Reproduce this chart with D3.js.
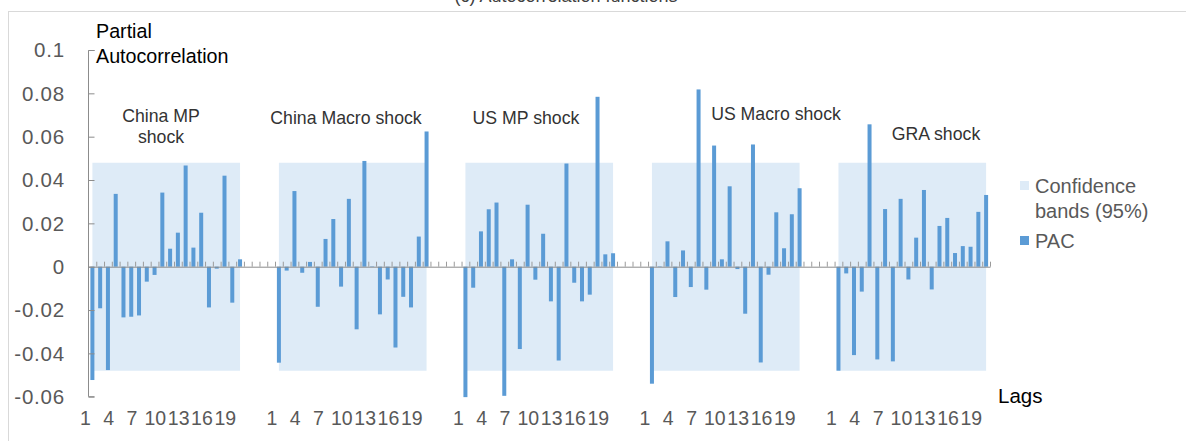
<!DOCTYPE html>
<html>
<head>
<meta charset="utf-8">
<script src="https://cdn.jsdelivr.net/npm/d3@7"></script>
<style>
  body { margin: 0; background: #fff; }
  text { font-family: "Liberation Sans", Arial, Helvetica, sans-serif; }
</style>
</head>
<body>
<div id="chart"></div>
<script>
// ---- data ----
var shocks = ["China MP shock", "China Macro shock", "US MP shock", "US Macro shock", "GRA shock"];
var lags = d3.range(1, 21);
var lagLabels = [1, 4, 7, 10, 13, 16, 19];

var pacChinaMP    = [-0.0523, -0.0192, -0.0477, 0.0336, -0.0234, -0.0231, -0.0225, -0.0069, -0.0038, 0.0342,
                      0.0083, 0.0157, 0.0467, 0.0088, 0.0249, -0.0188, -0.0009, 0.0420, -0.0166, 0.0034];
var pacChinaMacro = [-0.0443, -0.0018, 0.0349, -0.0028, 0.0022, -0.0185, 0.0128, 0.0220, -0.0092, 0.0313,
                     -0.0289, 0.0488, 0.0002, -0.0220, -0.0059, -0.0373, -0.0139, -0.0188, 0.0139, 0.0624];
var pacUSMP       = [-0.0602, -0.0097, 0.0163, 0.0265, 0.0296, -0.0596, 0.0034, -0.0380, 0.0286, -0.0060,
                      0.0152, -0.0160, -0.0433, 0.0476, -0.0074, -0.0160, -0.0129, 0.0784, 0.0057, 0.0062];
var pacUSMacro    = [-0.0540, 0.0002, 0.0117, -0.0140, 0.0075, -0.0094, 0.0818, -0.0106, 0.0559, 0.0034,
                      0.0371, -0.0011, -0.0217, 0.0564, -0.0442, -0.0037, 0.0251, 0.0085, 0.0242, 0.0362];
var pacGRA        = [-0.0480, -0.0031, -0.0408, -0.0115, 0.0657, -0.0428, 0.0266, -0.0437, 0.0313, -0.0059,
                      0.0134, 0.0354, -0.0105, 0.0188, 0.0225, 0.0063, 0.0095, 0.0092, 0.0253, 0.0331];
var pacSeries = [pacChinaMP, pacChinaMacro, pacUSMP, pacUSMacro, pacGRA];

var bandUpper = 0.048;
var bandLower = -0.048;

var yTicks = [-0.06, -0.04, -0.02, 0, 0.02, 0.04, 0.06, 0.08, 0.1];

// ---- layout ----
var width = 1186, height = 441;
var gapSlots = 4;                       // empty categories between shock groups
var slotsPerGroup = lags.length + gapSlots;
var nSlots = shocks.length * slotsPerGroup - gapSlots;

var svg = d3.select("#chart").append("svg")
  .attr("width", width)
  .attr("height", height);

// frame & title (cut off at the top, as in the source figure)
svg.append("rect")
  .attr("x", 8.5).attr("y", 11.5)
  .attr("width", 1300).attr("height", 600)
  .attr("fill", "none").attr("stroke", "#d9d9d9");
svg.append("text")
  .attr("x", 566).attr("y", 2)
  .attr("text-anchor", "middle")
  .attr("font-size", 18).attr("fill", "#404040")
  .text("(c) Autocorrelation functions");

var xEdge = d3.scaleLinear().domain([0, nSlots]).range([88.5, 990]);
var y = d3.scaleLinear().domain([-0.06, 0.1]).range([396.7, 50]);

function slotOf(g, i) { return g * slotsPerGroup + i; }
function centerOf(s) { return xEdge(s + 0.5); }

// confidence bands (area from lag 1 to lag 20)
var band = d3.area()
  .x(function (d) { return centerOf(d.slot); })
  .y0(function () { return y(bandLower); })
  .y1(function () { return y(bandUpper); });

shocks.forEach(function (name, g) {
  var pts = lags.map(function (l, i) { return { slot: slotOf(g, i) }; });
  svg.append("path")
    .datum(pts)
    .attr("d", band)
    .attr("fill", "#deebf7");
});

// PAC bars
var bw = 4;
shocks.forEach(function (name, g) {
  svg.append("g").selectAll("rect")
    .data(pacSeries[g])
    .enter()
    .append("rect")
    .attr("x", function (d, i) { return centerOf(slotOf(g, i)) - bw / 2; })
    .attr("width", bw)
    .attr("y", function (d) { return y(Math.max(0, d)); })
    .attr("height", function (d) { return Math.abs(y(d) - y(0)); })
    .attr("fill", "#5b9bd5");
});

// y axis
var yAxis = svg.append("g")
  .attr("transform", "translate(88.5,0)")
  .call(d3.axisRight(y).tickValues(yTicks).tickSize(6).tickFormat(""));
yAxis.select(".domain").attr("stroke", "#8c8c8c").attr("d", "M6,50.5H0V396.7H6");
yAxis.selectAll(".tick line").attr("stroke", "#8c8c8c");

svg.append("g").selectAll("text")
  .data(yTicks)
  .enter()
  .append("text")
  .attr("x", 65)
  .attr("y", function (d) { return y(d); })
  .attr("dy", "0.36em")
  .attr("text-anchor", "end")
  .attr("font-size", 20.5)
  .attr("letter-spacing", 0.8)
  .attr("fill", "#595959")
  .text(function (d) { return d === 0 ? "0" : String(d); });

// x axis (category boundaries, ticks pointing up)
var xAxis = svg.append("g")
  .attr("transform", "translate(0," + y(0) + ")")
  .call(d3.axisTop(xEdge).tickValues(d3.range(1, nSlots + 1)).tickSize(5).tickSizeOuter(0).tickFormat(""));
xAxis.select(".domain").attr("stroke", "#8c8c8c");
xAxis.selectAll(".tick line").attr("stroke", "#9a9a9a");

// lag labels
var labelData = [];
shocks.forEach(function (name, g) {
  lagLabels.forEach(function (l) { labelData.push({ slot: slotOf(g, l - 1), lab: l }); });
});
svg.append("g").selectAll("text")
  .data(labelData)
  .enter()
  .append("text")
  .attr("x", function (d) { return centerOf(d.slot) - 7; })
  .attr("y", 425)
  .attr("text-anchor", "middle")
  .attr("font-size", 19.5)
  .attr("fill", "#595959")
  .text(function (d) { return d.lab; });

// group titles
var titlePos = [
  { lines: ["China MP", "shock"], x: 161, y: 116 },
  { lines: ["China Macro shock"], x: 346, y: 118 },
  { lines: ["US MP shock"], x: 526, y: 118 },
  { lines: ["US Macro shock"], x: 776, y: 114 },
  { lines: ["GRA shock"], x: 936, y: 134 }
];
titlePos.forEach(function (t) {
  t.lines.forEach(function (ln, k) {
    svg.append("text")
      .attr("x", t.x).attr("y", t.y + k * 21)
      .attr("dy", "0.36em")
      .attr("text-anchor", "middle")
      .attr("font-size", 17.7)
      .attr("fill", "#333")
      .text(ln);
  });
});

// axis titles
svg.append("text").attr("x", 96).attr("y", 38).attr("font-size", 19.7).attr("fill", "#000").text("Partial");
svg.append("text").attr("x", 96).attr("y", 63).attr("font-size", 19.7).attr("fill", "#000").text("Autocorrelation");
svg.append("text").attr("x", 998).attr("y", 396).attr("dy", "0.36em").attr("font-size", 20.5).attr("fill", "#000").text("Lags");

// legend
var legend = [
  { lines: ["Confidence", "bands (95%)"], color: "#deebf7", y: 186 },
  { lines: ["PAC"], color: "#5b9bd5", y: 241 }
];
legend.forEach(function (l) {
  svg.append("rect")
    .attr("x", 1020).attr("y", l.y - 5)
    .attr("width", 9).attr("height", 9)
    .attr("fill", l.color);
  l.lines.forEach(function (ln, k) {
    svg.append("text")
      .attr("x", 1035).attr("y", l.y + k * 25)
      .attr("dy", "0.36em")
      .attr("font-size", 20)
      .attr("fill", "#595959")
      .text(ln);
  });
});
</script>
</body>
</html>
